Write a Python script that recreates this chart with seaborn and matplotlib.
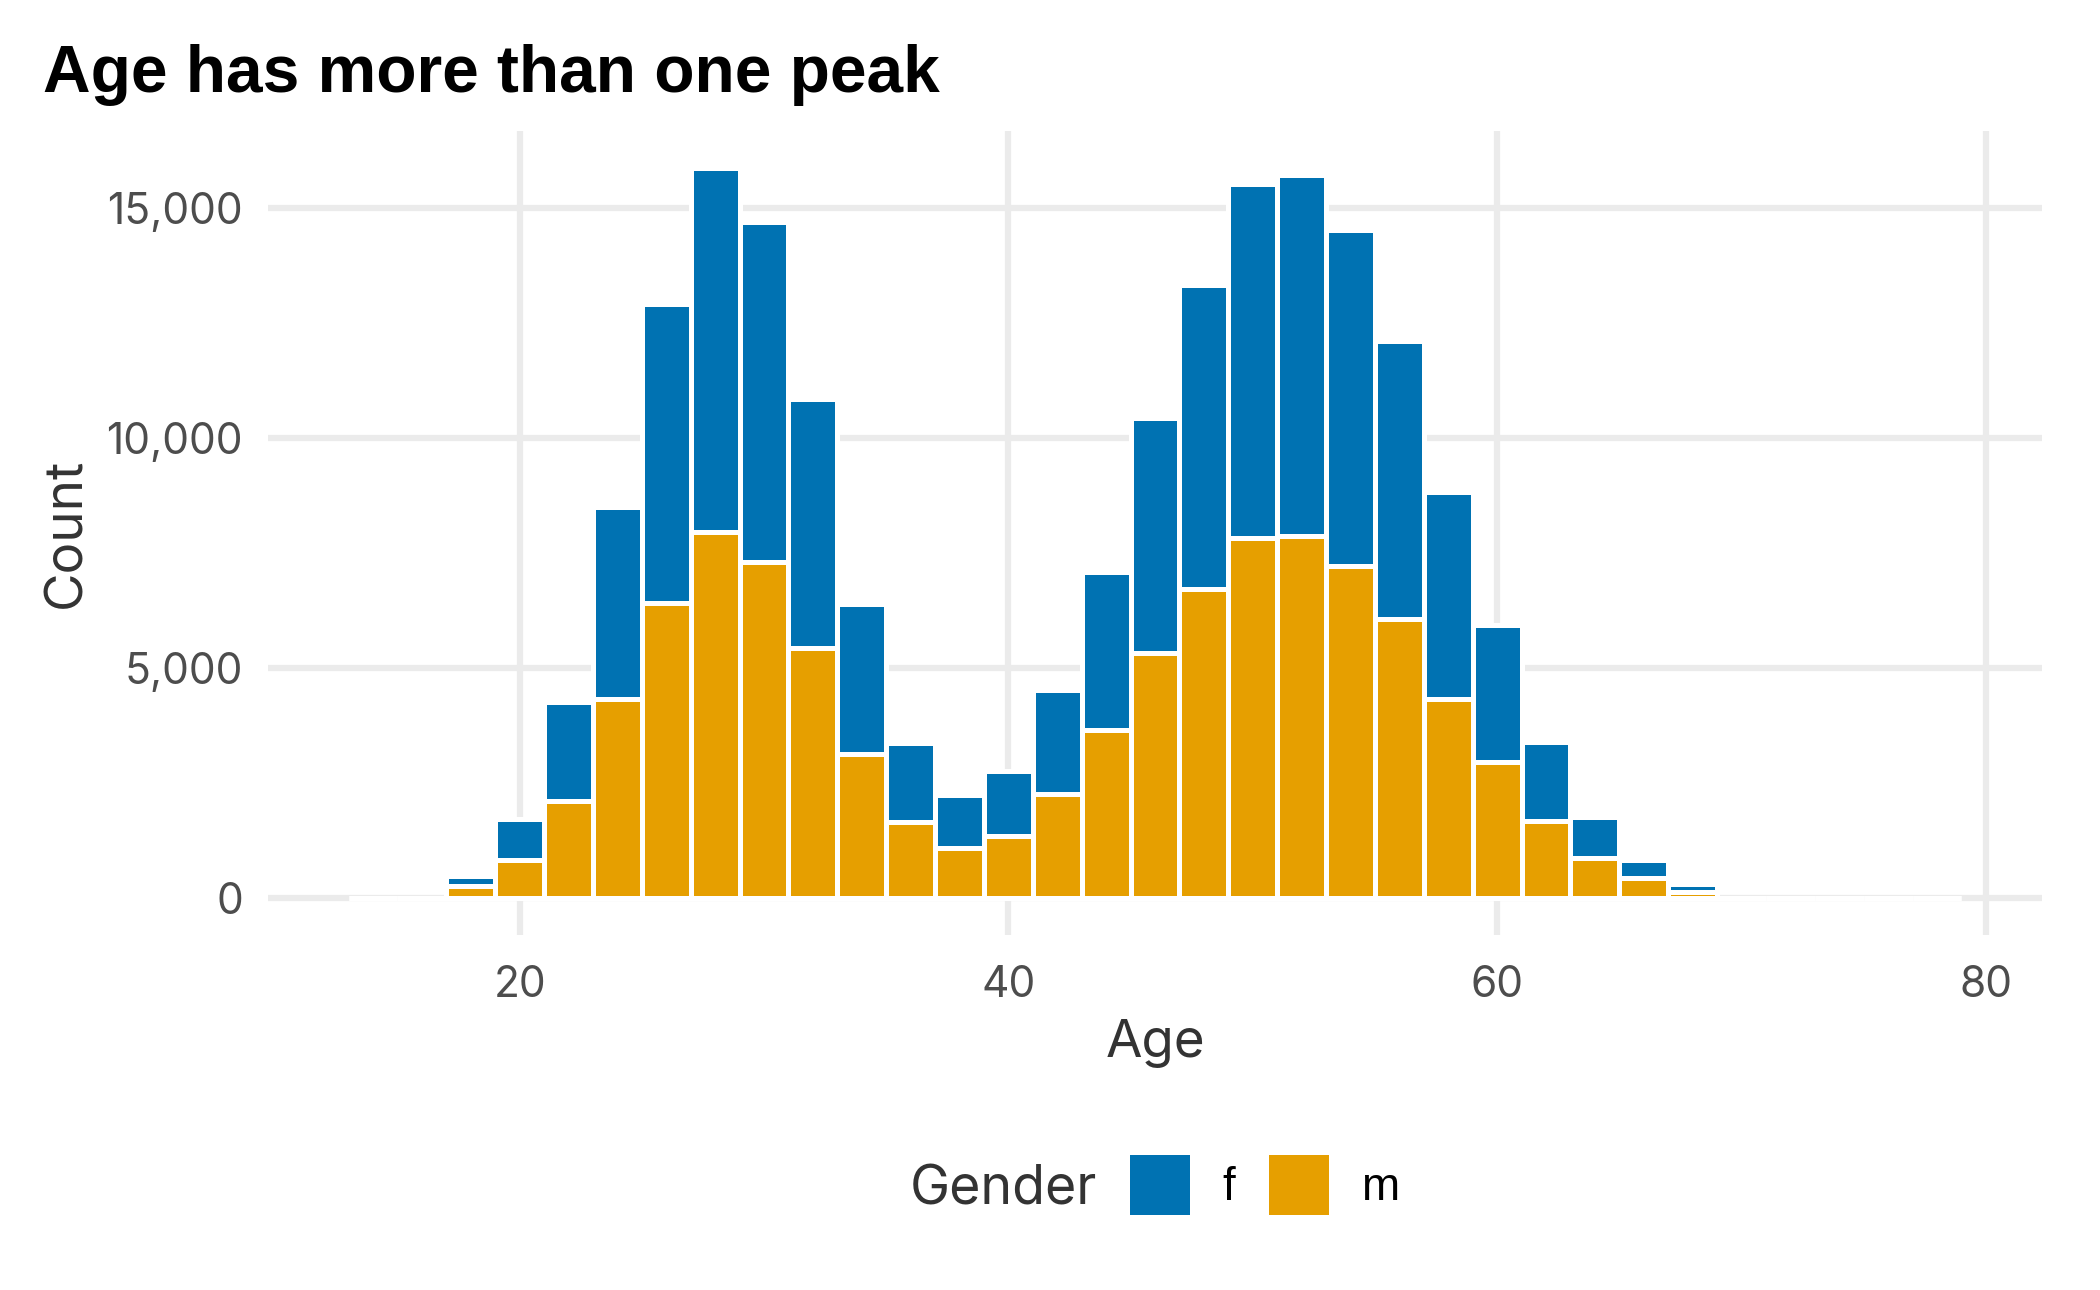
import numpy as np
import pandas as pd
import matplotlib
matplotlib.use("Agg")
import matplotlib.pyplot as plt
import matplotlib.patches as mpatches
from matplotlib.ticker import StrMethodFormatter
import seaborn as sns

# bin midpoints (width 2) and counts per gender
ages = [14, 16, 18, 20, 22, 24, 26, 28, 30, 32, 34, 36, 38, 40, 42, 44, 46,
        48, 50, 52, 54, 56, 58, 60, 62, 64, 66, 68, 70, 72, 74, 76, 78]
f_counts = [0, 0, 235, 870, 2150, 4160, 6480, 7905, 7380, 5410, 3255, 1715,
            1135, 1395, 2270, 3430, 5115, 6600, 7700, 7820, 7295, 6020, 4505,
            2965, 1715, 905, 410, 175, 0, 0, 0, 0, 0]
m_counts = [0, 0, 260, 845, 2120, 4330, 6425, 7965, 7300, 5435, 3140, 1655,
            1105, 1365, 2265, 3665, 5320, 6715, 7820, 7880, 7210, 6075, 4330,
            2965, 1685, 870, 435, 145, 0, 0, 0, 0, 0]
genders = ["f", "m"]
colors = {"f": "#0072B2", "m": "#E69F00"}

df = pd.concat([
    pd.DataFrame({"Age": ages, "Count": f_counts, "Gender": "f"}),
    pd.DataFrame({"Age": ages, "Count": m_counts, "Gender": "m"}),
], ignore_index=True)

sns.set_style("white")
plt.rcParams["font.family"] = ["Inter", "DejaVu Sans"]

fig = plt.figure(figsize=(7, 4.3), dpi=300)
ax = fig.add_axes([0.1276, 0.2752, 0.8448, 0.6232])

lo, hi = 13, 79
sns.histplot(data=df, x="Age", weights="Count", hue="Gender", hue_order=genders,
             multiple="stack", binwidth=2, binrange=(lo, hi), palette=colors,
             alpha=1, edgecolor="white", linewidth=1.2, legend=False, ax=ax)

pad = (hi - lo) * 0.05
ax.set_xlim(lo - pad, hi + pad)
top = max(np.array(f_counts) + np.array(m_counts))
ax.set_ylim(-top * 0.05, top * 1.05)
ax.set_xticks([20, 40, 60, 80])
ax.set_yticks([0, 5000, 10000, 15000])
ax.yaxis.set_major_formatter(StrMethodFormatter("{x:,.0f}"))
ax.set_axisbelow(True)
ax.grid(True, color="#EBEBEB", linewidth=1.5)
for s in ax.spines.values():
    s.set_visible(False)
ax.tick_params(length=0, labelsize=10.2, labelcolor="#4D4D4D")
ax.tick_params(axis="x", pad=7.3)
ax.tick_params(axis="y", pad=6)
ax.set_xlabel("Age", fontsize=12.7, color="#333333", labelpad=3)
ax.set_ylabel("Count", fontsize=12.7, color="#333333", labelpad=3.7)

fig.text(0.0205, 0.929, "Age has more than one peak", fontsize=15.8,
         fontweight="bold", color="black", family="Liberation Sans",
         ha="left", va="baseline")

handles = [mpatches.Patch(facecolor=colors[g], edgecolor="none") for g in genders]
fig.legend(handles, genders, loc="center left", bbox_to_anchor=(0.538, 0.0814),
           ncol=2, frameon=False, handlelength=1.31, handleheight=1.64,
           handletextpad=0.7, columnspacing=0.75, borderpad=0, borderaxespad=0,
           labelcolor="black", prop={"family": "Liberation Sans", "size": 11})
fig.text(0.433, 0.0814, "Gender", fontsize=12.9, color="#333333",
         ha="left", va="center_baseline")

fig.savefig("out.png", dpi=300)
